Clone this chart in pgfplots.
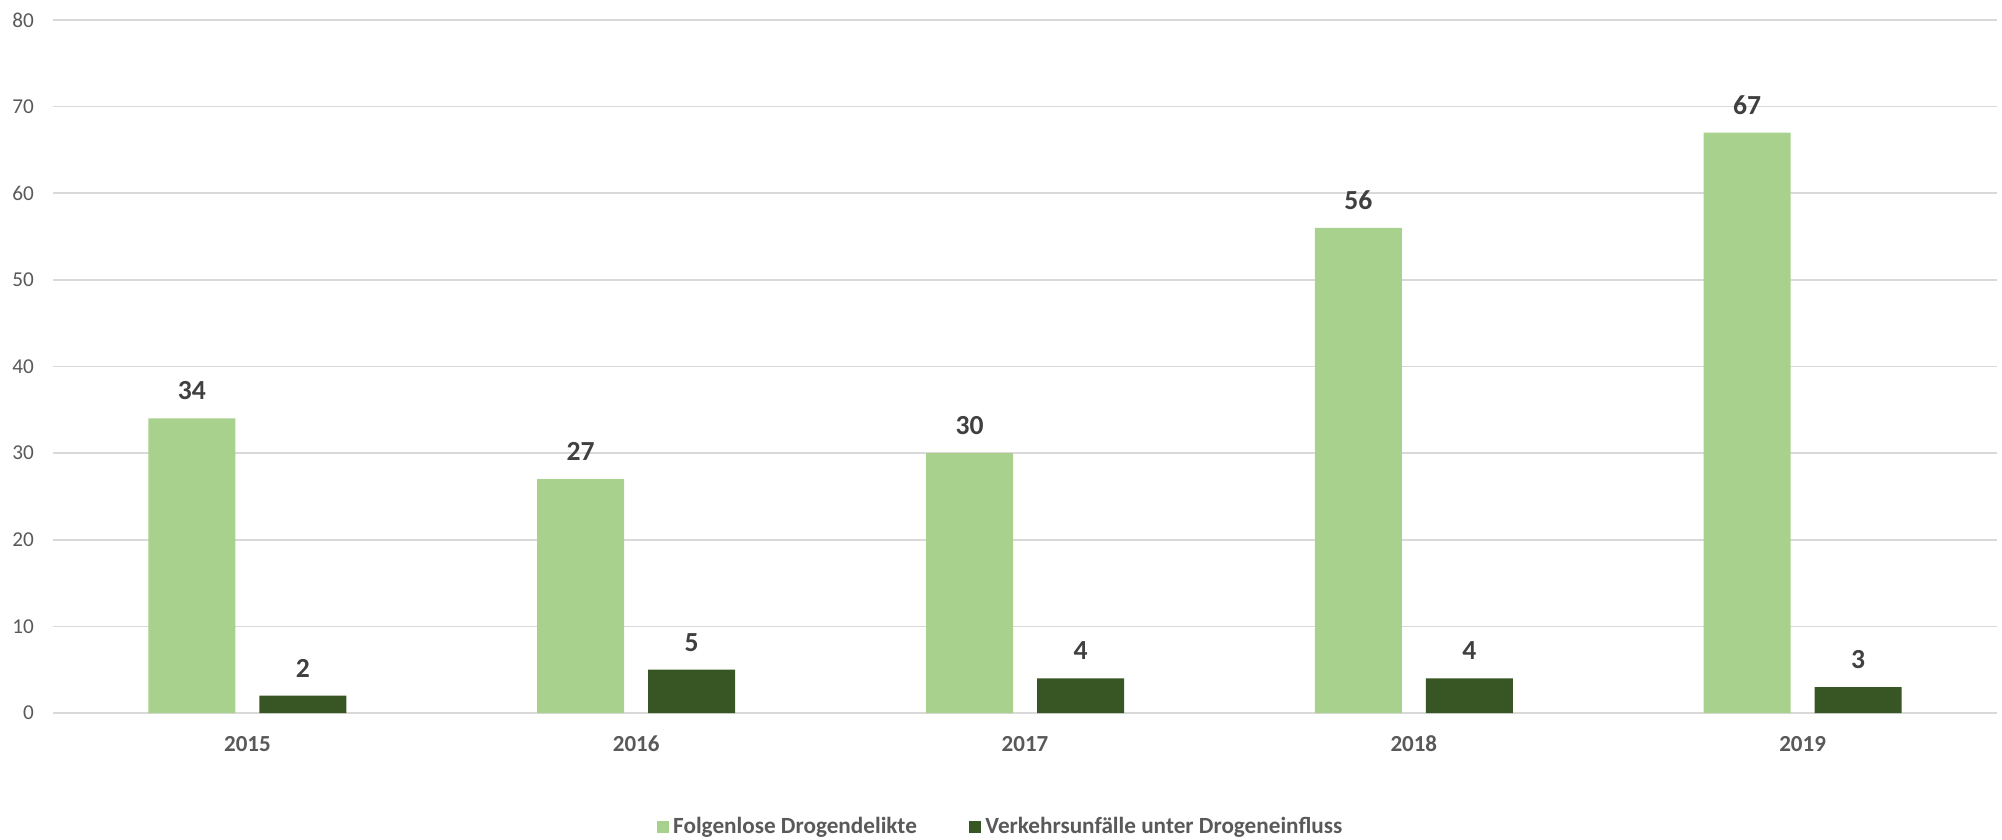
\documentclass[border=0pt]{standalone}
\usepackage{fontspec}
\setmainfont{Carlito}
\usepackage{pgfplots}
\pgfplotsset{compat=1.18}
\definecolor{hell}{HTML}{A9D18E}
\definecolor{dunkel}{HTML}{375623}
\definecolor{tickc}{HTML}{595959}
\definecolor{lblc}{HTML}{404040}
\definecolor{gridc}{HTML}{D9D9D9}
\begin{document}
\begin{tikzpicture}
\begin{axis}[
    scale only axis,
    width=972pt, height=346.5pt,
    ybar=12pt, bar width=43.5pt,
    xmin=-0.5, xmax=4.5,
    ymin=0, ymax=80,
    ytick={0,10,...,80},
    xtick=data,
    xticklabels={2015,2016,2017,2018,2019},
    axis x line*=bottom,
    axis y line*=left,
    y axis line style={draw=none},
    x axis line style={draw=gridc, line width=0.9pt},
    ymajorgrids, xmajorgrids=false,
    grid style={draw=gridc, line width=0.75pt},
    major tick length=0pt,
    /pgf/number format/assume math mode=true,
    yticklabel style={font=\fontsize{10.6}{12}\selectfont, text=tickc, xshift=-6pt},
    xticklabel style={font=\fontsize{11.5}{13}\selectfont\bfseries, text=tickc, yshift=-8pt},
    nodes near coords,
    every node near coord/.append style={font=\fontsize{13.8}{16}\selectfont\bfseries, text=lblc, anchor=south, inner sep=0pt, yshift=9pt},
    legend style={at={(rel axis cs:0.4879,-0.1645)}, anchor=center, draw=none, legend columns=2,
        font=\fontsize{11.6}{14}\selectfont\bfseries, text=tickc, inner sep=0pt,
        /tikz/every even column/.append style={column sep=24pt}},
    legend image code/.code={\fill[#1] (0pt,-3.15pt) rectangle (6.3pt,3.15pt);},
    clip=false,
]
\addplot[fill=hell, draw=none] coordinates {(0,34) (1,27) (2,30) (3,56) (4,67)};
\addplot[fill=dunkel, draw=none] coordinates {(0,2) (1,5) (2,4) (3,4) (4,3)};
\legend{Folgenlose Drogendelikte, Verkehrsunfälle unter Drogeneinfluss}
\coordinate (O) at (rel axis cs:0,0);
\coordinate (T) at (rel axis cs:1,1);
\end{axis}
\pgfresetboundingbox
\path[use as bounding box] ([shift={(-26.5pt,-63pt)}]O) rectangle ([shift={(2.5pt,10pt)}]T);
\end{tikzpicture}
\end{document}
